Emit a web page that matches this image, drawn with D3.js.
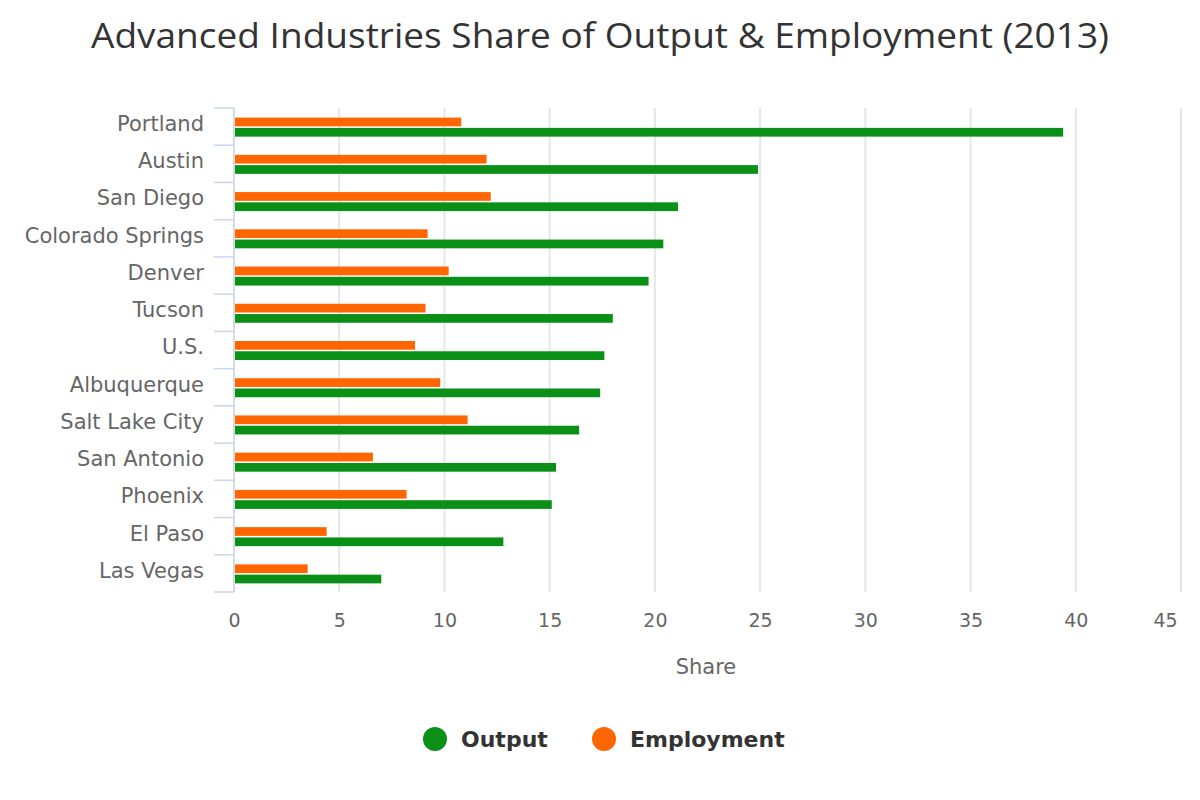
<!DOCTYPE html>
<html>
<head>
    <meta charset="utf-8">
    <title>Advanced Industries Share</title>
    <script src="https://cdn.jsdelivr.net/npm/d3@7"></script>
    <style>
        body { margin: 0; background: #fff; }
        text { font-family: "DejaVu Sans", sans-serif; }
    </style>
</head>
<body>
    <svg></svg>
    <script>
        const width = 1200;
        const height = 800;
        const margin = { top: 108, right: 20, bottom: 208, left: 234 };

        const cities = ["Portland", "Austin", "San Diego", "Colorado Springs", "Denver", "Tucson", "U.S.",
            "Albuquerque", "Salt Lake City", "San Antonio", "Phoenix", "El Paso", "Las Vegas"];
        const output = [39.4, 24.9, 21.1, 20.4, 19.7, 18.0, 17.6, 17.4, 16.4, 15.3, 15.1, 12.8, 7.0];
        const employment = [10.8, 12.0, 12.2, 9.2, 10.2, 9.1, 8.6, 9.8, 11.1, 6.6, 8.2, 4.4, 3.5];
        const xTicks = [0, 5, 10, 15, 20, 25, 30, 35, 40, 45];
        const seriesNames = ["Output", "Employment"];
        const colors = { Output: "#0a8f17", Employment: "#ff6600" };

        const svg = d3.select("svg")
            .attr("width", width)
            .attr("height", height);

        const plotW = 1181 - margin.left;
        const plotH = height - margin.top - margin.bottom;

        const g = svg.append("g")
            .attr("transform", "translate(" + margin.left + "," + margin.top + ")");

        const x = d3.scaleLinear().domain([0, 45]).range([0, plotW]);
        const y = d3.scaleBand().domain(cities).range([0, plotH]);
        // employment drawn on top, output below
        const inner = d3.scaleBand().domain(["Employment", "Output"])
            .range([y.bandwidth() / 2 - 9, y.bandwidth() / 2 + 10]).paddingInner(0.15);

        // grid lines
        g.append("g")
            .selectAll("line")
            .data(xTicks)
            .enter()
            .append("line")
            .attr("x1", d => x(d))
            .attr("x2", d => x(d))
            .attr("y1", 0)
            .attr("y2", plotH)
            .attr("stroke", "#e6e6e6")
            .attr("stroke-width", 2);

        // bars
        const rows = cities.map((c, i) => ({ city: c, Output: output[i], Employment: employment[i] }));
        const rowG = g.append("g").selectAll("g")
            .data(rows)
            .enter()
            .append("g")
            .attr("transform", d => "translate(0," + y(d.city) + ")");

        rowG.selectAll("rect")
            .data(d => seriesNames.map(s => ({ key: s, value: d[s] })))
            .enter()
            .append("rect")
            .attr("x", x(0) + 1)
            .attr("y", d => inner(d.key))
            .attr("width", d => x(d.value) - x(0) - 1)
            .attr("height", inner.bandwidth())
            .attr("fill", d => colors[d.key]);

        // y axis
        const yAxis = g.append("g");
        yAxis.append("line")
            .attr("x1", 0).attr("x2", 0)
            .attr("y1", 0).attr("y2", plotH)
            .attr("stroke", "#ccd6eb").attr("stroke-width", 1.5);
        yAxis.selectAll(".tick")
            .data(cities.concat(["_end"]))
            .enter()
            .append("line")
            .attr("x1", -20).attr("x2", 0)
            .attr("y1", (d, i) => i * y.step())
            .attr("y2", (d, i) => i * y.step())
            .attr("stroke", "#ccd6eb").attr("stroke-width", 1.5);
        yAxis.selectAll("text")
            .data(cities)
            .enter()
            .append("text")
            .attr("x", -30)
            .attr("y", d => y(d) + y.bandwidth() / 2 - 3)
            .attr("dy", "0.35em")
            .attr("text-anchor", "end")
            .attr("font-size", 21)
            .attr("fill", "#666")
            .text(d => d);

        // x axis labels
        const xAxis = d3.axisBottom(x).tickValues(xTicks).tickSize(0).tickPadding(22);
        const xg = g.append("g")
            .attr("transform", "translate(0," + plotH + ")")
            .call(xAxis);
        xg.select(".domain").remove();
        xg.selectAll("text")
            .attr("font-size", 19)
            .attr("fill", "#666")
            .style("font-family", "\"DejaVu Sans\", sans-serif");
        // last label pulled inside the chart edge
        xg.selectAll(".tick").filter(d => d === 45).select("text").attr("dx", -16);

        svg.append("text")
            .attr("x", 706)
            .attr("y", 674)
            .attr("text-anchor", "middle")
            .attr("font-size", 21)
            .attr("fill", "#666")
            .text("Share");

        // title
        svg.append("text")
            .attr("x", 600)
            .attr("y", 48)
            .attr("text-anchor", "middle")
            .attr("font-size", 34)
            .attr("fill", "#333")
            .attr("textLength", 1018)
            .attr("lengthAdjust", "spacingAndGlyphs")
            .style("font-family", "\"Open Sans\", sans-serif")
            .text("Advanced Industries Share of Output & Employment (2013)");

        // legend
        const legendX = [435, 604];
        const legend = svg.append("g").selectAll("g")
            .data(seriesNames)
            .enter()
            .append("g")
            .attr("transform", (d, i) => "translate(" + legendX[i] + ",739)");
        legend.append("circle")
            .attr("r", 12)
            .attr("fill", d => colors[d]);
        legend.append("text")
            .attr("x", 26)
            .attr("dy", "0.35em")
            .attr("font-size", 22)
            .attr("font-weight", "bold")
            .attr("fill", "#333")
            .text(d => d);
    </script>
</body>
</html>
